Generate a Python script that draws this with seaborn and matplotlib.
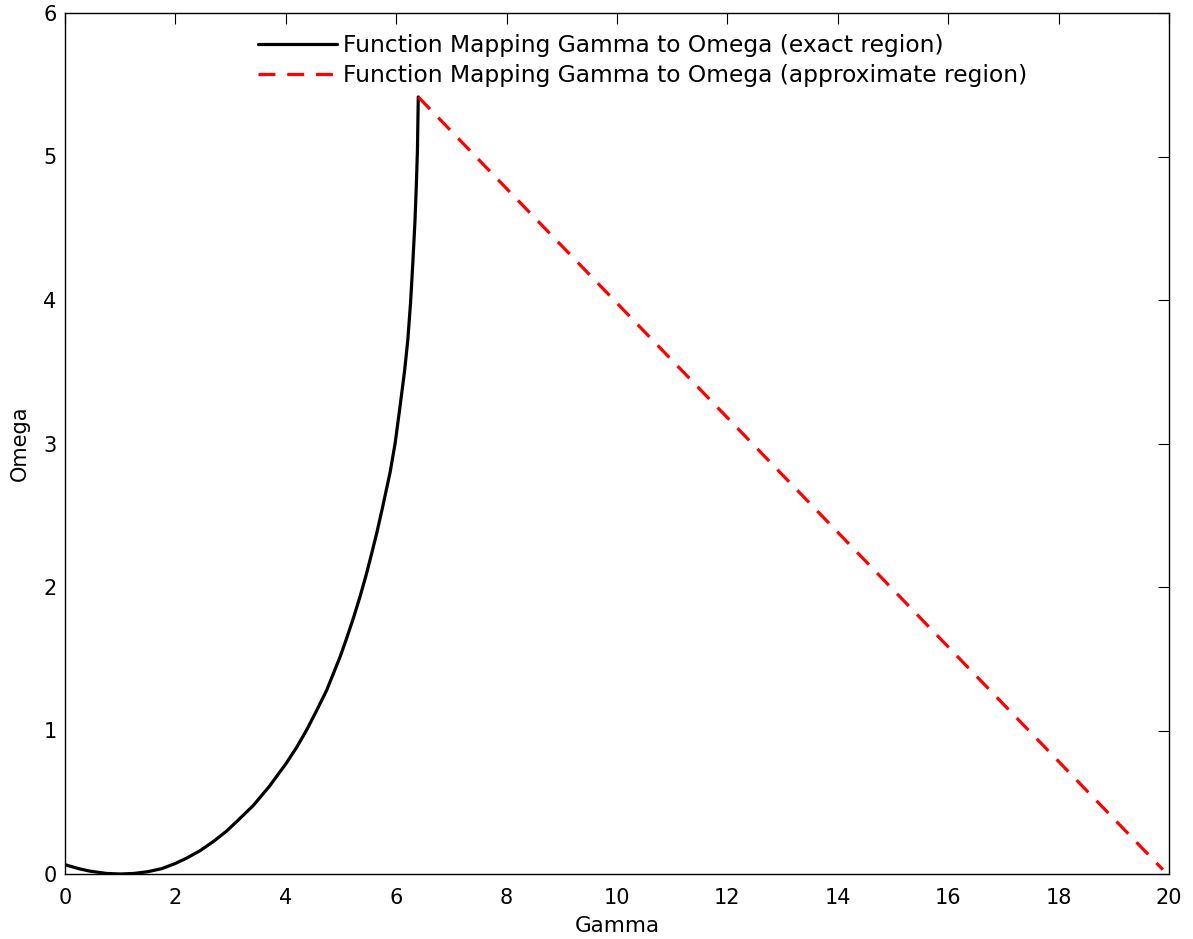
import numpy as np
import pandas as pd
import matplotlib
matplotlib.use("Agg")
import matplotlib.pyplot as plt
import seaborn as sns

# Exact region (black solid curve)
gamma_exact = [0.0, 0.25, 0.45, 0.75, 1.0, 1.25, 1.5, 1.75, 1.99, 2.2, 2.45, 2.7,
               2.93, 3.15, 3.41, 3.7, 4.0, 4.2, 4.38, 4.56, 4.74, 4.98, 5.1,
               5.23, 5.35, 5.46, 5.56, 5.65, 5.75, 5.89, 5.98, 6.07, 6.15, 6.21,
               6.26, 6.30, 6.34, 6.365, 6.385, 6.40]
omega_exact = [0.065, 0.037, 0.02, 0.004, 0.0, 0.004, 0.016, 0.037, 0.072, 0.11, 0.163, 0.23,
               0.30, 0.38, 0.477, 0.61, 0.767, 0.885, 1.005, 1.14, 1.28, 1.51, 1.64,
               1.79, 1.94, 2.09, 2.24, 2.38, 2.55, 2.80, 3.0, 3.26, 3.50, 3.72,
               3.98, 4.25, 4.55, 4.80, 5.05, 5.415]

# Approximate region (red dashed line)
gamma_approx = [6.40, 19.89]
omega_approx = [5.415, 0.03]

label_exact = "Function Mapping Gamma to Omega (exact region)"
label_approx = "Function Mapping Gamma to Omega (approximate region)"

x_ticks = [0, 2, 4, 6, 8, 10, 12, 14, 16, 18, 20]
y_ticks = [0, 1, 2, 3, 4, 5, 6]

sns.set_style("white")
plt.rcParams['font.family'] = ['DejaVu Sans']

fig = plt.figure(figsize=(11.93, 9.39), dpi=100)
ax = fig.add_axes([65/1193, 65/939, (1169-65)/1193, (874-13)/939])

df_exact = pd.DataFrame({"Gamma": gamma_exact, "Omega": omega_exact})
df_approx = pd.DataFrame({"Gamma": gamma_approx, "Omega": omega_approx})

sns.lineplot(data=df_exact, x="Gamma", y="Omega", ax=ax, color="black",
             linewidth=2.3, sort=False, estimator=None, label=label_exact)
sns.lineplot(data=df_approx, x="Gamma", y="Omega", ax=ax, color="#ff0000",
             linewidth=2.3, sort=False, estimator=None, label=label_approx)
ax.lines[0].set_solid_joinstyle("round")
ax.lines[1].set_linestyle((0, (5.3, 3.7)))

ax.set_xlim(0, 20)
ax.set_ylim(0, 6)
ax.set_xticks(x_ticks)
ax.set_yticks(y_ticks)
ax.tick_params(direction="in", length=8, width=0.8, top=True, right=True,
               labelsize=15, colors="black")
ax.tick_params(axis="x", pad=10)
ax.tick_params(axis="y", pad=6)
for s in ax.spines.values():
    s.set_color("black")
    s.set_linewidth(1.0)
ax.set_xlabel("Gamma", fontsize=15.5, labelpad=6, color="black")
ax.set_ylabel("Omega", fontsize=15, labelpad=10, color="black")

leg = ax.legend(loc="upper left", bbox_to_anchor=(258/1193, 1 - 34/939),
                bbox_transform=fig.transFigure, frameon=False, fontsize=16.8,
                handlelength=3.4, handletextpad=0.26, borderpad=0, borderaxespad=0,
                labelspacing=0.32)
for t in leg.get_texts():
    t.set_color("black")

fig.savefig("out.png", dpi=100)
